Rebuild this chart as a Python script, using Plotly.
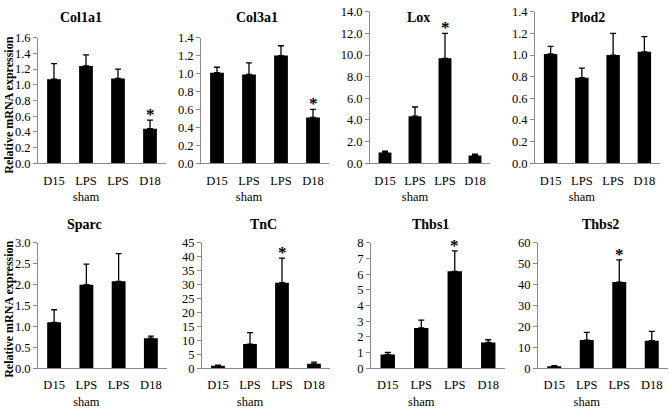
import plotly.graph_objects as go

# ---- data ----
categories = ["D15", "LPS<br>sham", "LPS", "D18"]

genes = ["Col1a1", "Col3a1", "Lox", "Plod2", "Sparc", "TnC", "Thbs1", "Thbs2"]

col1a1_mean = [1.07, 1.24, 1.08, 0.44]
col1a1_err = [0.20, 0.14, 0.12, 0.11]
col3a1_mean = [1.01, 0.99, 1.20, 0.51]
col3a1_err = [0.06, 0.13, 0.11, 0.09]
lox_mean = [1.0, 4.35, 9.7, 0.72]
lox_err = [0.12, 0.85, 2.3, 0.13]
plod2_mean = [1.01, 0.79, 1.0, 1.03]
plod2_err = [0.07, 0.09, 0.20, 0.14]
sparc_mean = [1.10, 2.00, 2.08, 0.72]
sparc_err = [0.30, 0.49, 0.66, 0.05]
tnc_mean = [0.9, 8.7, 30.7, 1.6]
tnc_err = [0.25, 4.1, 8.8, 0.6]
thbs1_mean = [0.88, 2.57, 6.18, 1.65]
thbs1_err = [0.14, 0.50, 1.30, 0.17]
thbs2_mean = [1.0, 13.5, 41.2, 13.2]
thbs2_err = [0.3, 3.7, 10.6, 4.5]

means = [col1a1_mean, col3a1_mean, lox_mean, plod2_mean,
         sparc_mean, tnc_mean, thbs1_mean, thbs2_mean]
errs = [col1a1_err, col3a1_err, lox_err, plod2_err,
        sparc_err, tnc_err, thbs1_err, thbs2_err]

# significance markers (index of bar with asterisk, or None)
star_idx = [3, 3, 2, None, None, 2, 2, 2]

y_max = [1.6, 1.4, 14, 1.4, 3.0, 45, 8, 60]
y_dtick = [0.2, 0.2, 2, 0.2, 0.5, 5, 1, 10]
y_fmt = [".1f", ".1f", ".1f", ".1f", ".1f", "d", "d", "d"]

# ---- layout geometry (pixels) ----
W, H = 669, 409
x_px = [(38, 166), (201, 329), (370, 490), (535, 660),
        (38, 167), (202, 330), (371, 505), (538, 668)]
y_px = [(32, 163), (32, 163), (5, 163), (5, 163),
        (246, 377), (246, 377), (246, 377), (246, 377)]
title_px = [(81, 11), (257, 11), (418, 11), (588, 11),
            (84, 227), (263, 227), (430, 227), (600, 227)]

FONT = "Liberation Serif"
AXIS_COL = "#8a8a8a"

fig = go.Figure()
annotations = []

for i, g in enumerate(genes):
    n = i + 1
    xa = "x" if n == 1 else f"x{n}"
    ya = "y" if n == 1 else f"y{n}"
    fig.add_trace(go.Bar(
        x=categories, y=means[i],
        marker=dict(color="black", line=dict(width=0)),
        error_y=dict(type="data", symmetric=False, array=errs[i],
                     arrayminus=[0] * 4, color="black", thickness=1.3, width=3),
        xaxis=xa, yaxis=ya, showlegend=False,
    ))
    x0, x1 = x_px[i]
    yt, yb = y_px[i]
    top_row = i < 4
    fig.layout[f"xaxis{'' if n == 1 else n}"] = dict(
        domain=[x0 / W, x1 / W], anchor=ya,
        showline=True, linecolor=AXIS_COL, linewidth=1,
        ticks="", showgrid=False, zeroline=False,
        tickfont=dict(family=FONT, size=12.5, color="black"),
        ticklabelstandoff=6 if top_row else 5,
        categoryorder="array", categoryarray=categories,
        fixedrange=True,
    )
    fig.layout[f"yaxis{'' if n == 1 else n}"] = dict(
        domain=[1 - yb / H, 1 - yt / H], anchor=xa,
        range=[0, y_max[i]], dtick=y_dtick[i], tick0=0,
        tickformat=y_fmt[i],
        showline=True, linecolor=AXIS_COL, linewidth=1,
        ticks="outside", ticklen=4, tickcolor=AXIS_COL,
        showgrid=False, zeroline=False,
        tickfont=dict(family=FONT, size=12.5, color="black"),
        fixedrange=True,
    )
    tx, ty = title_px[i]
    annotations.append(dict(
        text=f"<b>{g}</b>", x=tx / W, y=1 - ty / H, xref="paper", yref="paper",
        xanchor="center", yanchor="middle", showarrow=False,
        font=dict(family=FONT, size=14, color="black"),
    ))
    if star_idx[i] is not None:
        k = star_idx[i]
        annotations.append(dict(
            text="<b>*</b>", x=categories[k], y=means[i][k] + errs[i][k],
            xref=xa, yref=ya, xanchor="center", yanchor="bottom",
            yshift=-6, showarrow=False,
            font=dict(family=FONT, size=17, color="black"),
        ))

for cy in (103, 316):
    annotations.append(dict(
        text="<b>Relative mRNA expression</b>", x=9 / W, y=1 - cy / H,
        xref="paper", yref="paper", xanchor="center", yanchor="middle",
        textangle=-90, showarrow=False,
        font=dict(family=FONT, size=12, color="black"),
    ))

fig.update_layout(
    width=W, height=H, margin=dict(l=0, r=0, t=0, b=0),
    paper_bgcolor="white", plot_bgcolor="white",
    bargap=0.57, annotations=annotations,
    font=dict(family=FONT, color="black"),
)

fig.write_html(
    "out.html",
    config={"displayModeBar": False},
    post_script="document.body.style.margin='0';document.body.style.overflow='hidden';",
)
